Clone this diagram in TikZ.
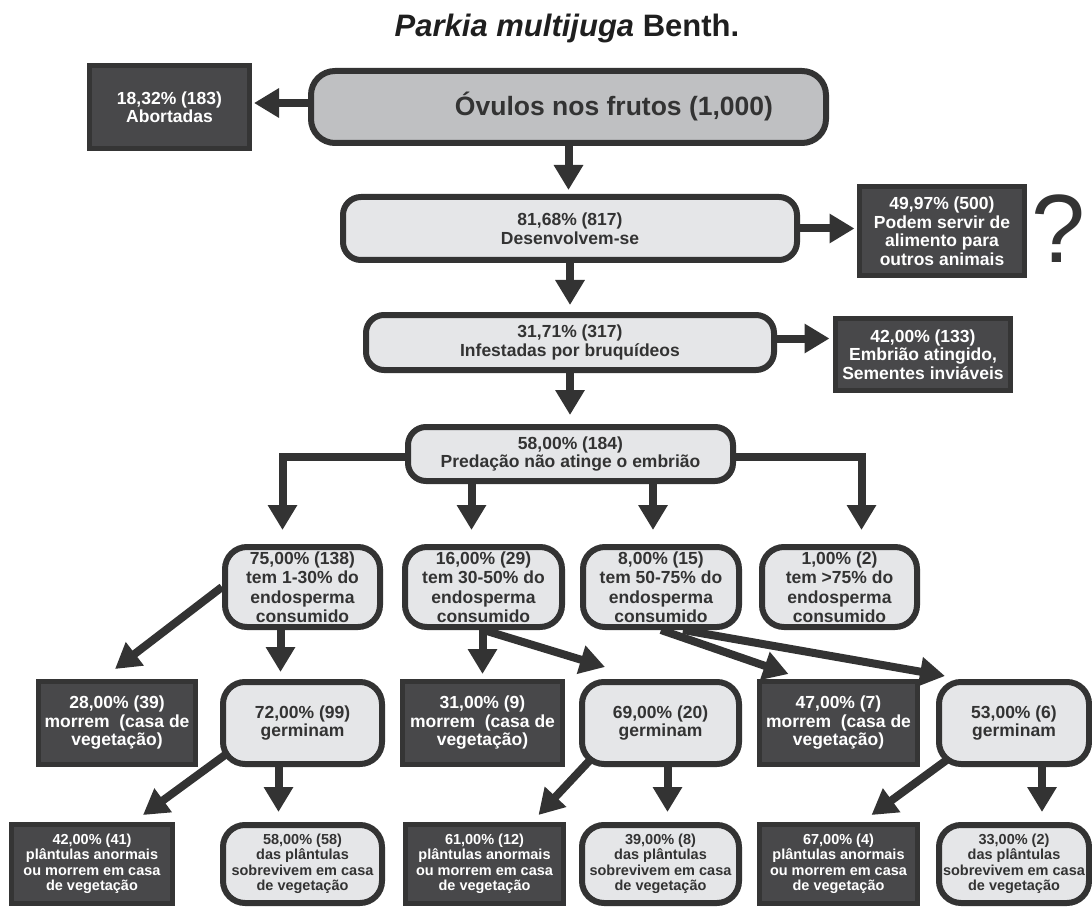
\documentclass[tikz,border=0pt]{standalone}
\usepackage{fontspec}
\setmainfont{Liberation Sans}
\usetikzlibrary{arrows.meta,calc}
\pgfdeclarelayer{bg}
\pgfsetlayers{bg,main}
\definecolor{lc}{HTML}{333333}
\definecolor{lf}{HTML}{E5E6E8}
\definecolor{mf}{HTML}{BFC0C2}
\definecolor{df}{HTML}{48484A}
\definecolor{dl}{HTML}{353535}
\definecolor{tc}{HTML}{333333}
\begin{document}
\begin{tikzpicture}[x=1pt,y=-1pt,
  boxbase/.style={align=center, inner sep=0pt, font=\fontsize{17.5}{18.5}\selectfont\bfseries},
  lbox/.style={boxbase, draw=lc, fill=lf, line width=6pt, rounded corners=22pt, text=tc},
  dbox/.style={boxbase, draw=dl, fill=df, line width=5pt, text=white},
  rowfive/.style={font=\fontsize{17.5}{19.5}\selectfont\bfseries},
  rowsev/.style={font=\fontsize{14.5}{15.5}\selectfont\bfseries},
  arr/.style={draw=lc, line width=8pt, -{Triangle[length=25pt,width=28pt]}},
]
\useasboundingbox (0,0) rectangle (1092,909);

% title
\node[font=\fontsize{31}{36}\selectfont\bfseries, text=black!88, anchor=base, inner sep=0pt] (title) at (567,37) {\textit{Parkia multijuga} Benth.};

% top chain
\node[lbox, fill=mf, minimum width=515pt, minimum height=72pt, rounded corners=24pt, font=\fontsize{26.5}{30}\selectfont\bfseries] (ov) at (568.5,107) {\hspace*{91pt}Óvulos nos frutos (1,000)};
\node[dbox, minimum width=160pt, minimum height=83pt] (ab) at (169.5,107) {18,32\% (183)\\Abortadas};
\node[lbox, minimum width=454pt, minimum height=63pt, rounded corners=18pt] (de) at (570,228.5) {81,68\% (817)\\Desenvolvem-se};
\node[dbox, minimum width=165pt, minimum height=89pt] (po) at (942,231) {49,97\% (500)\\Podem servir de\\alimento para\\outros animais};
\node[font=\fontsize{97}{100}\selectfont, text=lc, anchor=base, inner sep=0pt] (q) at (1058,263) {?};
\node[lbox, minimum width=408pt, minimum height=55pt, rounded corners=18pt] (in) at (570,342.5) {31,71\% (317)\\Infestadas por bruquídeos};
\node[dbox, minimum width=175pt, minimum height=72pt] (em) at (923,354.5) {42,00\% (133)\\Embrião atingido,\\Sementes inviáveis};
\node[lbox, minimum width=325pt, minimum height=54pt, rounded corners=18pt] (pr) at (570.5,454) {58,00\% (184)\\Predação não atinge o embrião};

% row 5
\node[lbox, rowfive, minimum width=155pt, minimum height=80pt] (ra) at (302.5,587) {75,00\% (138)\\tem 1-30\% do\\endosperma\\consumido};
\node[lbox, rowfive, minimum width=157pt, minimum height=80pt] (rb) at (483.5,587) {16,00\% (29)\\tem 30-50\% do\\endosperma\\consumido};
\node[lbox, rowfive, minimum width=156pt, minimum height=80pt] (rc) at (661,587) {8,00\% (15)\\tem 50-75\% do\\endosperma\\consumido};
\node[lbox, rowfive, minimum width=155pt, minimum height=80pt] (rd) at (839.5,587) {1,00\% (2)\\tem >75\% do\\endosperma\\consumido};

% row 6
\node[dbox, minimum width=157pt, minimum height=83pt] (s1) at (117,723) {28,00\% (39)\\morrem~ (casa de\\vegetação)};
\node[lbox, minimum width=159pt, minimum height=82pt] (s2) at (302.5,723) {72,00\% (99)\\germinam};
\node[dbox, minimum width=160pt, minimum height=83pt] (s3) at (482.5,723) {31,00\% (9)\\morrem~ (casa de\\vegetação)};
\node[lbox, minimum width=157pt, minimum height=82pt] (s4) at (660.5,723) {69,00\% (20)\\germinam};
\node[dbox, minimum width=158pt, minimum height=83pt] (s5) at (838.5,723) {47,00\% (7)\\morrem~ (casa de\\vegetação)};
\node[lbox, minimum width=150pt, minimum height=82pt] (s6) at (1014,723) {53,00\% (6)\\germinam};

% row 7
\node[dbox, rowsev, minimum width=161pt, minimum height=79pt] (t1) at (92,864) {42,00\% (41)\\plântulas anormais\\ou morrem em casa\\de vegetação};
\node[lbox, rowsev, minimum width=159pt, minimum height=78pt] (t2) at (302.5,864) {58,00\% (58)\\das plântulas\\sobrevivem em casa\\de vegetação};
\node[dbox, rowsev, minimum width=158pt, minimum height=79pt] (t3) at (484.5,864) {61,00\% (12)\\plântulas anormais\\ou morrem em casa\\de vegetação};
\node[lbox, rowsev, minimum width=157pt, minimum height=78pt] (t4) at (660.5,864) {39,00\% (8)\\das plântulas\\sobrevivem em casa\\de vegetação};
\node[dbox, rowsev, minimum width=158pt, minimum height=79pt] (t5) at (838.5,864) {67,00\% (4)\\plântulas anormais\\ou morrem em casa\\de vegetação};
\node[lbox, rowsev, minimum width=150pt, minimum height=78pt] (t6) at (1014,864) {33,00\% (2)\\das plântulas\\sobrevivem em casa\\de vegetação};

% helper coordinates
\coordinate (xa) at ($(ra.north)+(-20,0)$);
\coordinate (xb) at ($(rb.north)+(-12,0)$);
\coordinate (xc) at ($(rc.north)+(-8,0)$);
\coordinate (xd) at ($(rd.north)+(22,0)$);
\coordinate (c1) at ($(ov.west)+(0,-4)$);
\coordinate (c5) at ($(in.east)+(0,-4)$);
\coordinate (e11) at ($(s1.north)+(-2,-10)$);
\coordinate (x12) at ($(s2.north)+(-22,0)$);
\coordinate (e14) at ($(s4.north west)+(26,-12)$);
\coordinate (e15) at ($(s5.north)+(-50,-5)$);
\coordinate (e16) at ($(s6.north west)+(9,-3)$);
\coordinate (e17) at ($(t1.north)+(51,-7)$);
\coordinate (x18) at ($(t2.north)+(-24,0)$);
\coordinate (e19) at ($(t3.north)+(54,-7)$);
\coordinate (x20) at ($(t4.north)+(7,0)$);
\coordinate (e21) at ($(t5.north)+(33,-7)$);
\coordinate (x22) at ($(t6.north)+(28,0)$);

\begin{pgfonlayer}{bg}
\draw[arr, shorten >=2pt] (c1) -- (c1 -| ab.east);
\draw[arr, shorten >=4pt] (ov.south) -- (ov.south |- de.north);
\draw[arr, shorten >=2.5pt] (de.east) -- (de.east -| po.west);
\draw[arr, shorten >=7pt] (de.south) -- (de.south |- in.north);
\draw[arr, shorten >=3.5pt] (c5) -- (c5 -| em.west);
\draw[arr, shorten >=9pt] (in.south) -- (in.south |- pr.north);
\draw[arr, shorten >=14pt] ($(pr.west)+(0,3)$) -| (xa);
\draw[arr, shorten >=14pt] (xb |- pr.south) -- (xb);
\draw[arr, shorten >=14pt] (xc |- pr.south) -- (xc);
\draw[arr, shorten >=14pt] ($(pr.east)+(0,3)$) -| (xd);
% row 5 -> row 6
\draw[arr] (ra.west) -- (e11);
\draw[arr, shorten >=7pt] (x12 |- ra.south) -- (x12);
\draw[arr, shorten >=5pt] (s3.north |- rb.south) -- (s3.north);
\draw[arr] (rb.south) -- (e14);
\draw[arr] (rc.south) -- (e15);
\draw[arr] ($(rc.south)+(22,0)$) -- (e16);
% row 6 -> row 7
\draw[arr] ($(s2.south west)+(5,-12)$) -- (e17);
\draw[arr, shorten >=10pt] (x18 |- s2.south) -- (x18);
\draw[arr] ($(s4.south west)+(12,-8)$) -- (e19);
\draw[arr, shorten >=10pt] (x20 |- s4.south) -- (x20);
\draw[arr] ($(s6.south west)+(12,-8)$) -- (e21);
\draw[arr, shorten >=10pt] (x22 |- s6.south) -- (x22);
\end{pgfonlayer}
\end{tikzpicture}
\end{document}
